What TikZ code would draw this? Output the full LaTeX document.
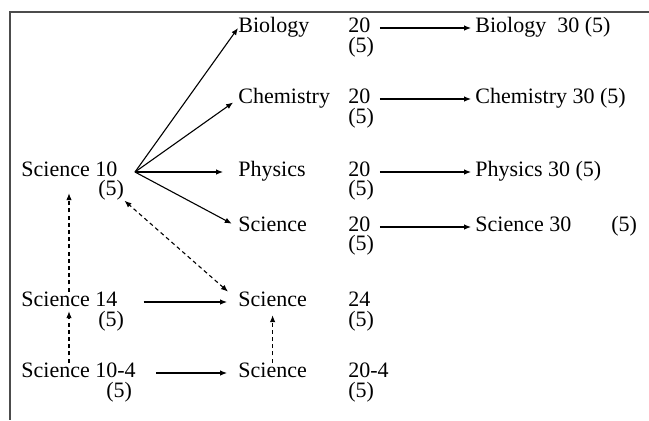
\documentclass[tikz,border=0pt]{standalone}
\usepackage{fontspec}
\setmainfont{Liberation Serif}
\usepackage{tikz}
\usetikzlibrary{arrows.meta, positioning, calc}

\begin{document}
\begin{tikzpicture}[
  x=0.5pt, y=-0.5pt,
  lbl/.style={anchor=mid west, inner sep=0pt, font=\fontsize{11}{13}\selectfont},
  arr/.style={-{Latex[length=3.5pt, width=2.8pt]}, line width=0.55pt},
  darr/.style={arr, dash pattern=on 2pt off 1.6pt},
  frame/.style={line width=0.9pt, black!70},
]
\useasboundingbox (0,0) rectangle (649,420);

% ---- Frame -----------------------------------------------------------------
\draw[frame] (649,12) -- (10,12) -- (10,420);

% ---- Grade 10 / 14 column --------------------------------------------------
\node[lbl] (s10)   at (21,172)  {Science 10};
\node[lbl] (s10c)  at (98,191)  {(5)};
\node[lbl] (s14)   at (21,302)  {Science 14};
\node[lbl] (s14c)  at (98,322)  {(5)};
\node[lbl] (s104)  at (21,373)  {Science 10-4};
\node[lbl] (s104c) at (106,393) {(5)};
\coordinate (hub) at (135,172);

% ---- Grade 20 column -------------------------------------------------------
\node[lbl] (bio)     at (238,28)  {Biology};
\node[lbl] (bio20)   at (348,28)  {20};
\node[lbl] (bio20c)  at (348,48)  {(5)};
\node[lbl] (chem)    at (238,99)  {Chemistry};
\node[lbl] (chem20)  at (348,99)  {20};
\node[lbl] (chem20c) at (348,119) {(5)};
\node[lbl] (phys)    at (238,172) {Physics};
\node[lbl] (phys20)  at (348,172) {20};
\node[lbl] (phys20c) at (348,191) {(5)};
\node[lbl] (sci)     at (238,227) {Science};
\node[lbl] (sci20)   at (348,227) {20};
\node[lbl] (sci20c)  at (348,246) {(5)};
\node[lbl] (sci24)   at (238,302) {Science};
\node[lbl] (sci24n)  at (348,302) {24};
\node[lbl] (sci24c)  at (348,322) {(5)};
\node[lbl] (sci204)  at (238,373) {Science};
\node[lbl] (sci204n) at (348,373) {20-4};
\node[lbl] (sci204c) at (348,393) {(5)};

% ---- Grade 30 column -------------------------------------------------------
\node[lbl] (bio30)  at (475,28)  {Biology\enspace 30 (5)};
\node[lbl] (chem30) at (475,99)  {Chemistry 30 (5)};
\node[lbl] (phys30) at (475,172) {Physics 30 (5)};
\node[lbl] (sci30)  at (475,227) {Science 30\hspace*{20pt}(5)};

% ---- Science 10 into the 20 courses ----------------------------------------
\draw[arr] (hub) -- (bio.mid west);
\draw[arr, shorten >=3pt] (hub) -- (chem.mid west);
\draw[arr, shorten >=7.5pt] (hub) -- (phys.mid west);
\draw[arr, shorten >=3.5pt] (hub) -- (sci.mid west);

% ---- 20 into 30 ------------------------------------------------------------
\foreach \a/\b in {bio20/bio30, chem20/chem30, phys20/phys30, sci20/sci30}
  \draw[arr, shorten <=4.5pt, shorten >=2pt] (\a.mid east) -- (\b.mid west);

% ---- Knowledge and employability streams -----------------------------------
\draw[arr, shorten <=13pt, shorten >=5.5pt] (s14.mid east) -- (sci24.mid west);
\draw[arr, shorten <=10pt, shorten >=5.5pt] (s104.mid east) -- (sci204.mid west);

% ---- Transfers (dashed) ----------------------------------------------------
\draw[darr] ([xshift=24pt]s104.north west) -- ([xshift=24pt, yshift=-2pt]s14.south west);
\draw[darr] ([xshift=24pt]s14.north west) -- ([xshift=24pt, yshift=-8pt]s10.south west);
\draw[darr, shorten >=4pt] (sci204.north) -- (sci24.south);
\draw[darr, {Latex[length=3.5pt, width=2.8pt]}-{Latex[length=3.5pt, width=2.8pt]}]
  ([xshift=-5pt]sci24.north west) -- (s10c.south east);

\end{tikzpicture}
\end{document}
